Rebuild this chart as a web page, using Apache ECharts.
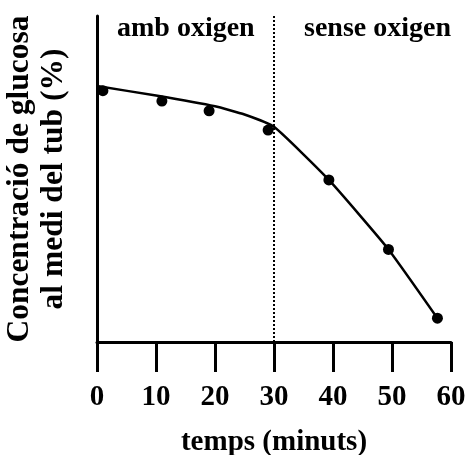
<!DOCTYPE html>
<html><head><meta charset="utf-8">
<script src="https://cdn.jsdelivr.net/npm/echarts@6/dist/echarts.min.js"></script>
<style>html,body{margin:0;padding:0;background:#fff}#c{width:469px;height:455px}</style>
</head><body><div id="c"></div>
<script>
// data (time in minutes, glucose % on an arbitrary 0-100 scale)
var pointTimes = [1, 11, 19, 29, 39.3, 49.4, 57.7];
var pointValues = [77.1, 73.9, 70.9, 65.0, 49.7, 28.4, 7.3];
var curveTimes = [0, 10, 20, 25, 30, 39.3, 49.4, 57.7];
var curveValues = [78.5, 75.6, 72.3, 69.8, 66.0, 49.7, 28.4, 7.3];
var xTicks = [0, 10, 20, 30, 40, 50, 60];
var switchTime = 30;
var phaseLabels = ['amb oxigen', 'sense oxigen'];
var xTitle = 'temps (minuts)';
var yTitle = 'Concentració de glucosa\nal medi del tub (%)';

var FONT = '"Liberation Serif", "Times New Roman", serif';
var chart = echarts.init(document.getElementById('c'));
chart.setOption({
  animation: false,
  backgroundColor: '#fff',
  grid: {left: 97, right: 18, top: 16, bottom: 113, containLabel: false, outerBoundsMode: 'none'},
  xAxis: {
    type: 'value', min: xTicks[0], max: xTicks[xTicks.length - 1], interval: 10,
    splitLine: {show: false},
    axisLine: {lineStyle: {color: '#000', width: 3}},
    axisTick: {length: 30, lineStyle: {color: '#000', width: 3}},
    axisLabel: {color: '#000', fontFamily: FONT, fontWeight: 'bold', fontSize: 29, margin: 41},
    name: xTitle, nameLocation: 'middle', nameGap: 86,
    nameTextStyle: {color: '#000', fontFamily: FONT, fontWeight: 'bold', fontSize: 29}
  },
  yAxis: {
    type: 'value', min: 0, max: 100,
    splitLine: {show: false},
    axisLine: {show: true, lineStyle: {color: '#000', width: 3}},
    axisTick: {show: false},
    axisLabel: {show: false},
    name: yTitle, nameLocation: 'middle', nameRotate: 90, nameGap: 26,
    nameTextStyle: {color: '#000', fontFamily: FONT, fontWeight: 'bold', fontSize: 31.5, lineHeight: 34, align: 'center'}
  },
  graphic: [
    {type: 'text', left: 185 - 68, top: 15, style: {text: phaseLabels[0], fill: '#000', font: 'bold 28px ' + FONT}},
    {type: 'text', left: 377 - 73, top: 15, style: {text: phaseLabels[1], fill: '#000', font: 'bold 28px ' + FONT}}
  ],
  series: [
    {
      type: 'line', symbol: 'none', smooth: 0.15,
      data: curveTimes.map(function (t, i) { return [t, curveValues[i]]; }),
      lineStyle: {color: '#000', width: 2.5},
      markLine: {
        silent: true, symbol: 'none', label: {show: false},
        lineStyle: {color: '#000', type: [2, 2], width: 2},
        data: [{xAxis: switchTime}]
      },
      z: 2
    },
    {
      type: 'scatter', symbol: 'circle', symbolSize: 11,
      data: pointTimes.map(function (t, i) { return [t, pointValues[i]]; }),
      itemStyle: {color: '#000', opacity: 1},
      z: 3
    }
  ]
});
</script></body></html>
